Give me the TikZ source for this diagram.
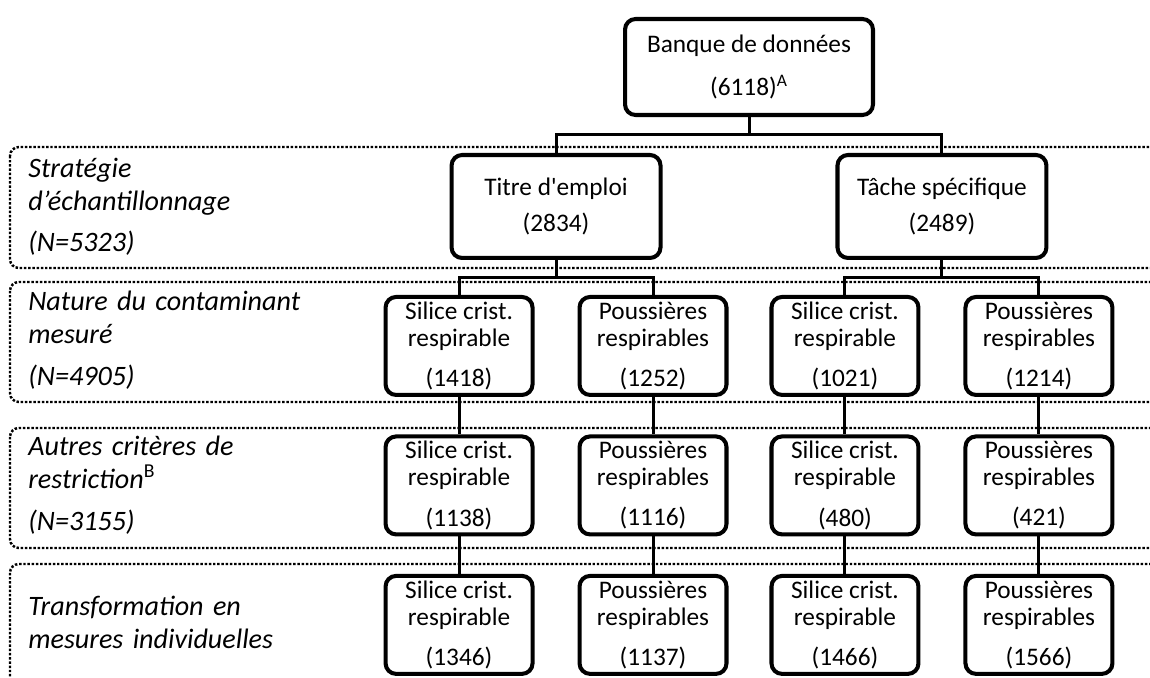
\documentclass[tikz,border=0pt]{standalone}
\usepackage{fontspec}
\setmainfont{Carlito}[Ligatures=TeXOff]
\usetikzlibrary{calc}

\tikzset{
  box/.style={draw, line width=2.3pt, rounded corners=6pt, align=center, inner sep=0pt,
    font=\fontsize{14.4pt}{15.4pt}\selectfont},
  bankbox/.style={box, minimum width=4.96cm, minimum height=1.92cm},
  jobbox/.style={box, minimum width=4.18cm, minimum height=2.06cm},
  dustbox/.style={box, minimum width=2.94cm, minimum height=1.96cm},
  band/.style={densely dotted, line width=1.4pt, rounded corners=5pt},
  bandlabel/.style={anchor=base west, inner sep=0pt, text width=9cm, align=left,
    font=\fontsize{16pt}{18.8pt}\selectfont\itshape}
}

\begin{document}
\begin{tikzpicture}[x=0.02cm, y=-0.02cm,
	level distance=2.79cm,
	level 1/.style={sibling distance=7.72cm},
	level 2/.style={sibling distance=3.88cm},
	edge from parent/.style={draw, line width=1.7pt},
	edge from parent path={(\tikzparentnode.south) |- ($(\tikzparentnode.south)!0.5!(\tikzchildnode.north)$) -| (\tikzchildnode.north)}]
	\useasboundingbox (0,0) rectangle (1150,677);

	% dotted bands, open to the right
	\draw [band] (10,147) rectangle (1175,268);
	\draw [band] (10,282) rectangle (1175,402);
	\draw [band] (10,428) rectangle (1175,548);
	\draw [band] (10,564) rectangle (1175,720);

	\node [bandlabel] (labstrat) at (28,177) {Stratégie\\d’échantillonnage\\[5pt](N=5323)};
	\node [bandlabel] (labnature) at (28,310) {Nature du contaminant\\mesuré\\[5.5pt](N=4905)};
	\node [bandlabel] (labautres) at (28,455) {Autres critères de\\restriction\textsuperscript{\upshape B}\\[5.5pt](N=3155)};
	\node [bandlabel] (labtransf) at (28,615) {Transformation en\\mesures individuelles};

	% tree
	\node [bankbox] (bank) at (749,67) {Banque de données\\[9pt](6118)\textsuperscript{A}}
		child {node [jobbox] (titre) {Titre d'emploi\\[5.6pt](2834)}
			child {node [dustbox] (tsil) {Silice crist.\\respirable\\[7.4pt](1418)}
				child {node [dustbox] (tsilb) {Silice crist.\\respirable\\[7.4pt](1138)}
					child {node [dustbox] (tsilc) {Silice crist.\\respirable\\[7.4pt](1346)}}}}
			child {node [dustbox] (tpou) {Poussières\\respirables\\[7.4pt](1252)}
				child {node [dustbox] (tpoub) {Poussières\\respirables\\[7.4pt](1116)}
					child {node [dustbox] (tpouc) {Poussières\\respirables\\[7.4pt](1137)}}}}}
		child {node [jobbox] (tache) {Tâche spécifique\\[5.6pt](2489)}
			child {node [dustbox] (ssil) {Silice crist.\\respirable\\[7.4pt](1021)}
				child {node [dustbox] (ssilb) {Silice crist.\\respirable\\[7.4pt](480)}
					child {node [dustbox] (ssilc) {Silice crist.\\respirable\\[7.4pt](1466)}}}}
			child {node [dustbox] (spou) {Poussières\\respirables\\[7.4pt](1214)}
				child {node [dustbox] (spoub) {Poussières\\respirables\\[7.4pt](421)}
					child {node [dustbox] (spouc) {Poussières\\respirables\\[7.4pt](1566)}}}}};
\end{tikzpicture}
\end{document}
